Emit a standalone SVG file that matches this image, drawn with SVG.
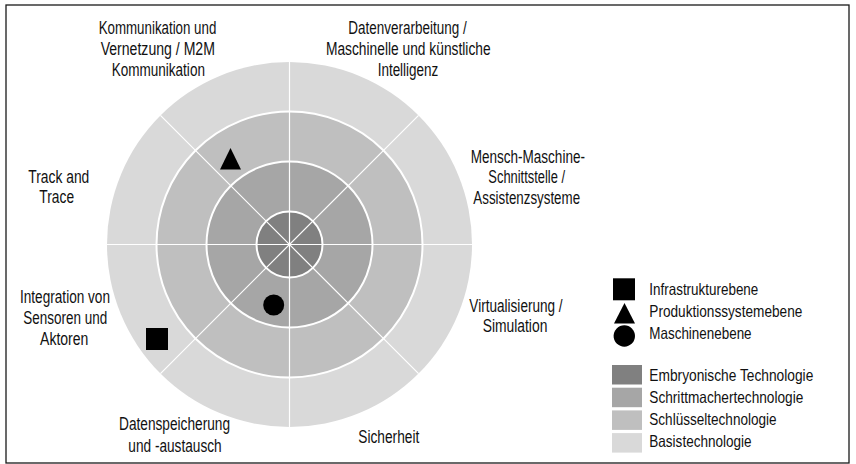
<svg xmlns="http://www.w3.org/2000/svg" width="856" height="464" viewBox="0 0 856 464">
  <defs>
    <style>
      text { font-family: "Liberation Sans Narrow", "Arial Narrow", "Liberation Sans", Arial, sans-serif; font-size: 17.5px; fill: #111; }
      .lbl { text-anchor: middle; }
      .leg { text-anchor: start; font-size: 16.5px; }
      .embryo { fill: #808080; }
      .pace { fill: #a6a6a6; }
      .key { fill: #bfbfbf; }
      .base { fill: #d9d9d9; }
      .ring { fill: none; stroke: #ffffff; stroke-width: 2; }
      .div { stroke: #ffffff; stroke-width: 1.2; }
      .mark { fill: #000000; }
    </style>
  </defs>

  <!-- frame -->
  <rect x="6" y="5" width="843" height="458" fill="#ffffff" stroke="#1a1a1a" stroke-width="1.3"/>

  <!-- radar rings -->
  <g id="radar">
    <circle class="base" cx="289.5" cy="244.5" r="182.5"/>
    <circle class="key" cx="289.5" cy="244.5" r="133"/>
    <circle class="pace" cx="289.5" cy="244.5" r="83"/>
    <circle class="embryo" cx="289.5" cy="244.5" r="33"/>
  </g>

  <!-- sector dividers -->
  <g id="connectors">
    <line class="div" x1="107" y1="244.5" x2="472" y2="244.5"/>
    <line class="div" x1="289.5" y1="62" x2="289.5" y2="427"/>
    <line class="div" x1="160.45" y1="115.45" x2="418.55" y2="373.55"/>
    <line class="div" x1="160.45" y1="373.55" x2="418.55" y2="115.45"/>
  </g>

  <g id="ring-borders">
    <circle class="ring" cx="289.5" cy="244.5" r="133"/>
    <circle class="ring" cx="289.5" cy="244.5" r="83"/>
    <circle class="ring" cx="289.5" cy="244.5" r="33"/>
  </g>

  <!-- technology markers -->
  <g id="marker-produktion"><polygon class="mark" points="230.5,148 241,169.5 220,169.5"/></g>
  <g id="marker-maschine"><circle class="mark" cx="273.7" cy="305" r="10.5"/></g>
  <g id="marker-infrastruktur"><rect class="mark" x="146" y="328" width="22" height="22"/></g>

  <!-- sector labels -->
  <g id="label-kommunikation">
    <text class="lbl" x="157.5" y="34" textLength="117.7" lengthAdjust="spacingAndGlyphs">Kommunikation und</text>
    <text class="lbl" x="157.8" y="55" textLength="114.3" lengthAdjust="spacingAndGlyphs">Vernetzung / M2M</text>
    <text class="lbl" x="158.3" y="75.7" textLength="93.3" lengthAdjust="spacingAndGlyphs">Kommunikation</text>
  </g>
  <g id="label-datenverarbeitung">
    <text class="lbl" x="407.5" y="34" textLength="118.3" lengthAdjust="spacingAndGlyphs">Datenverarbeitung /</text>
    <text class="lbl" x="408.3" y="55.3" textLength="164.7" lengthAdjust="spacingAndGlyphs">Maschinelle und künstliche</text>
    <text class="lbl" x="408" y="75.7" textLength="60.7" lengthAdjust="spacingAndGlyphs">Intelligenz</text>
  </g>
  <g id="label-mensch-maschine">
    <text class="lbl" x="527.8" y="162.5" textLength="114.3" lengthAdjust="spacingAndGlyphs">Mensch-Maschine-</text>
    <text class="lbl" x="526.7" y="183" textLength="76.7" lengthAdjust="spacingAndGlyphs">Schnittstelle /</text>
    <text class="lbl" x="526.7" y="203.5" textLength="106.7" lengthAdjust="spacingAndGlyphs">Assistenzsysteme</text>
  </g>
  <g id="label-virtualisierung">
    <text class="lbl" x="516" y="311.7" textLength="93.3" lengthAdjust="spacingAndGlyphs">Virtualisierung /</text>
    <text class="lbl" x="515" y="332.3" textLength="64.7" lengthAdjust="spacingAndGlyphs">Simulation</text>
  </g>
  <g id="label-sicherheit">
    <text class="lbl" x="388.8" y="443.3" textLength="61" lengthAdjust="spacingAndGlyphs">Sicherheit</text>
  </g>
  <g id="label-datenspeicherung">
    <text class="lbl" x="174.5" y="430" textLength="111" lengthAdjust="spacingAndGlyphs">Datenspeicherung</text>
    <text class="lbl" x="175" y="451.5" textLength="93.3" lengthAdjust="spacingAndGlyphs">und -austausch</text>
  </g>
  <g id="label-integration">
    <text class="lbl" x="65" y="303" textLength="90" lengthAdjust="spacingAndGlyphs">Integration von</text>
    <text class="lbl" x="65.3" y="324" textLength="84" lengthAdjust="spacingAndGlyphs">Sensoren und</text>
    <text class="lbl" x="64.2" y="344.5" textLength="48.3" lengthAdjust="spacingAndGlyphs">Aktoren</text>
  </g>
  <g id="label-track">
    <text class="lbl" x="58.8" y="183.3" textLength="61" lengthAdjust="spacingAndGlyphs">Track and</text>
    <text class="lbl" x="56.7" y="203.3" textLength="34.7" lengthAdjust="spacingAndGlyphs">Trace</text>
  </g>

  <!-- legend: levels -->
  <g id="legend-infrastruktur">
    <rect class="mark" x="613" y="278.3" width="22" height="22"/>
    <text class="leg" x="649.3" y="295" textLength="109" lengthAdjust="spacingAndGlyphs">Infrastrukturebene</text>
  </g>
  <g id="legend-produktion">
    <polygon class="mark" points="624.5,303 635,323.5 614,323.5"/>
    <text class="leg" x="649.3" y="317" textLength="153" lengthAdjust="spacingAndGlyphs">Produktionssystemebene</text>
  </g>
  <g id="legend-maschine">
    <circle class="mark" cx="624.3" cy="336" r="10.7"/>
    <text class="leg" x="649.3" y="339" textLength="102.3" lengthAdjust="spacingAndGlyphs">Maschinenebene</text>
  </g>

  <!-- legend: technology maturity -->
  <g id="legend-embryonisch">
    <rect class="embryo" x="612" y="365" width="30" height="19.5"/>
    <text class="leg" x="649.3" y="381" textLength="164" lengthAdjust="spacingAndGlyphs">Embryonische Technologie</text>
  </g>
  <g id="legend-schrittmacher">
    <rect class="pace" x="612" y="387.7" width="30" height="19.5"/>
    <text class="leg" x="649.3" y="403" textLength="154" lengthAdjust="spacingAndGlyphs">Schrittmachertechnologie</text>
  </g>
  <g id="legend-schluessel">
    <rect class="key" x="612" y="410.4" width="30" height="19.5"/>
    <text class="leg" x="649.3" y="425" textLength="127.3" lengthAdjust="spacingAndGlyphs">Schlüsseltechnologie</text>
  </g>
  <g id="legend-basis">
    <rect class="base" x="612" y="433.1" width="30" height="19.5"/>
    <text class="leg" x="649.3" y="447" textLength="102.3" lengthAdjust="spacingAndGlyphs">Basistechnologie</text>
  </g>
</svg>
